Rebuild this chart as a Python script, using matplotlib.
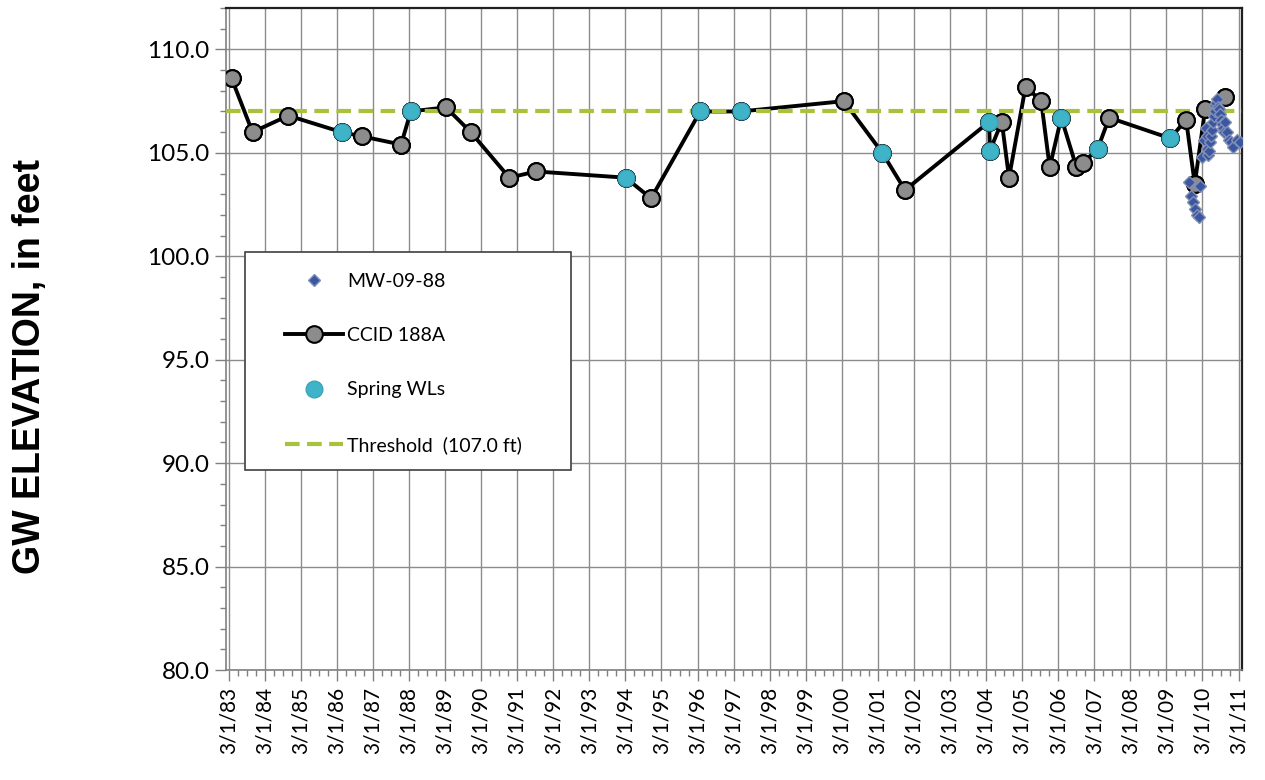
import matplotlib
matplotlib.use('Agg')
import matplotlib.pyplot as plt
import matplotlib.dates as mdates
from matplotlib.ticker import MultipleLocator, FuncFormatter
from matplotlib.patches import Rectangle
from datetime import datetime

# CCID 188A water levels (gray circles, black line)
ccid_dates = ["1983-04-01", "1983-10-30", "1984-10-26", "1986-04-20", "1986-11-10",
              "1987-12-12", "1988-03-20", "1989-03-10", "1989-11-17", "1990-12-12",
              "1991-09-10", "1994-03-03", "1994-11-17", "1996-03-28", "1997-05-12",
              "2000-03-22", "2001-04-15", "2001-12-01", "2004-04-01", "2004-04-08",
              "2004-08-07", "2004-10-19", "2005-04-05", "2005-09-10", "2005-12-05",
              "2006-04-01", "2006-09-02", "2006-11-06", "2007-04-05", "2007-07-31",
              "2009-04-09", "2009-09-16", "2009-12-13", "2010-03-28", "2010-10-12"]
ccid_vals = [108.6, 106.0, 106.8, 106.0, 105.8,
             105.4, 107.0, 107.2, 106.0, 103.8,
             104.1, 103.8, 102.8, 107.0, 107.0,
             107.5, 105.0, 103.2, 106.5, 105.1,
             106.5, 103.8, 108.2, 107.5, 104.3,
             106.7, 104.3, 104.5, 105.2, 106.7,
             105.7, 106.6, 103.5, 107.1, 107.7]

# spring water levels (cyan)
spring_dates = ["1986-04-20", "1988-03-20", "1994-03-03", "1996-03-28", "1997-05-12",
                "2001-04-15", "2004-04-01", "2004-04-08", "2006-04-01", "2007-04-05",
                "2009-04-09"]
spring_vals = [106.0, 107.0, 103.8, 107.0, 107.0,
               105.0, 106.5, 105.1, 106.7, 105.2,
               105.7]

# MW-09-88 (blue diamonds, late 2009 - 2011)
mw_dates = ["2009-10-20", "2009-11-08", "2009-11-25", "2009-12-12", "2010-01-01",
            "2010-01-20", "2010-02-06", "2010-02-25", "2010-03-15", "2010-04-01",
            "2010-04-12", "2010-04-20", "2010-05-01", "2010-05-08", "2010-05-18",
            "2010-05-26", "2010-06-05", "2010-06-12", "2010-06-22", "2010-07-01",
            "2010-07-10", "2010-07-20", "2010-07-28", "2010-08-06", "2010-08-16",
            "2010-08-25", "2010-09-03", "2010-09-12", "2010-09-22", "2010-10-01",
            "2010-10-20", "2010-11-06", "2010-11-25", "2010-12-12", "2011-01-01",
            "2011-02-15", "2011-03-20"]
mw_vals = [103.6, 102.9, 102.6, 102.3, 102.0,
           101.9, 103.4, 104.8, 105.6, 106.2,
           105.8, 105.2, 104.9, 105.1, 105.5,
           105.8, 106.1, 106.5, 106.8, 107.0,
           107.3, 107.4, 107.6, 107.2, 107.1,
           106.9, 106.6, 106.4, 106.2, 106.0,
           106.5, 106.0, 105.6, 105.5, 105.3,
           105.6, 105.5]

threshold = 107.0

def to_dt(lst):
    return [datetime.strptime(s, "%Y-%m-%d") for s in lst]

def date_label(x, pos):
    d = mdates.num2date(x)
    return "{}/{}/{}".format(d.month, d.day, d.strftime("%y"))

fig = plt.figure(figsize=(12.65, 7.8), dpi=100)
ax = fig.add_axes([0.1787, 0.141, 0.8031, 0.8487])

cd = to_dt(ccid_dates)
#line with markers (markers re-drawn on top of the threshold below)
ccid_line, = ax.plot(cd, ccid_vals, color='black', lw=2.8, marker='o', ms=12,
                     mfc='#8c8c8c', mec='black', mew=1.5, zorder=2, label='CCID 188A')
thr = ax.axhline(threshold, color='#a8c23c', lw=3.0, dashes=(3.5, 1.8), zorder=3,
                 label='Threshold  (107.0 ft)')
ax.plot(cd, ccid_vals, ls='none', marker='o', ms=12, mfc='#8c8c8c', mec='black',
        mew=1.5, zorder=4)
spr, = ax.plot(to_dt(spring_dates), spring_vals, ls='none', marker='o', ms=12,
               mfc='#3fb4c9', mec='#37a6bb', mew=1.0, zorder=5, label='Spring WLs')
mw, = ax.plot(to_dt(mw_dates), mw_vals, ls='none', marker='D', ms=6,
              mfc='#3b57a2', mec='#8290b3', mew=1.0, zorder=6, label='MW-09-88')

ax.set_ylim(80, 112)
ax.set_xlim(datetime(1983, 2, 4), datetime(2011, 4, 5))

ax.xaxis.set_major_locator(mdates.YearLocator(1, month=3, day=1))
ax.xaxis.set_minor_locator(mdates.MonthLocator(bymonth=[3, 6, 9, 12], bymonthday=1))
ax.xaxis.set_major_formatter(FuncFormatter(date_label))
ax.yaxis.set_major_locator(MultipleLocator(5))
ax.yaxis.set_minor_locator(MultipleLocator(1))
ax.yaxis.set_major_formatter(FuncFormatter(lambda y, pos: "%.1f" % y))

ax.grid(True, which='major', color='#8c8c8c', lw=1.0, zorder=0)
ax.set_axisbelow(True)

for lab in ax.get_xticklabels():
    lab.set_rotation(90)
    lab.set_fontfamily('Lato')
    lab.set_fontsize(15)
for lab in ax.get_yticklabels():
    lab.set_fontfamily('Lato')
    lab.set_fontsize(17.5)

ax.tick_params(axis='both', which='major', direction='out', length=8, width=1.0,
               color='#808080', pad=4)
ax.tick_params(axis='both', which='minor', direction='out', length=4, width=1.0,
               color='#808080')

for s in ['left', 'bottom']:
    ax.spines[s].set_color('#808080')
    ax.spines[s].set_linewidth(1.2)
for s in ['top', 'right']:
    ax.spines[s].set_color('#202020')
    ax.spines[s].set_linewidth(1.6)

fig.text(30 / 1265, 1 - 367 / 780, "GW ELEVATION, in feet", rotation=90,
         ha='center', va='center', fontsize=27, fontweight='bold',
         fontfamily='Liberation Sans')

# legend box drawn separately so the inner padding can differ per side
box = Rectangle((0.0187, 0.302), 0.321, 0.329, transform=ax.transAxes,
                facecolor='white', edgecolor='#404040', lw=1.2, zorder=9)
ax.add_patch(box)
leg = ax.legend(handles=[mw, ccid_line, spr, thr], loc='upper left',
                bbox_to_anchor=(0.058, 0.600), borderaxespad=0, borderpad=0,
                prop={'family': 'Lato', 'size': 14}, labelspacing=1.92,
                handlelength=3.0, handletextpad=0.2, frameon=False)
leg.set_zorder(10)

fig.savefig("out.png", dpi=100)
